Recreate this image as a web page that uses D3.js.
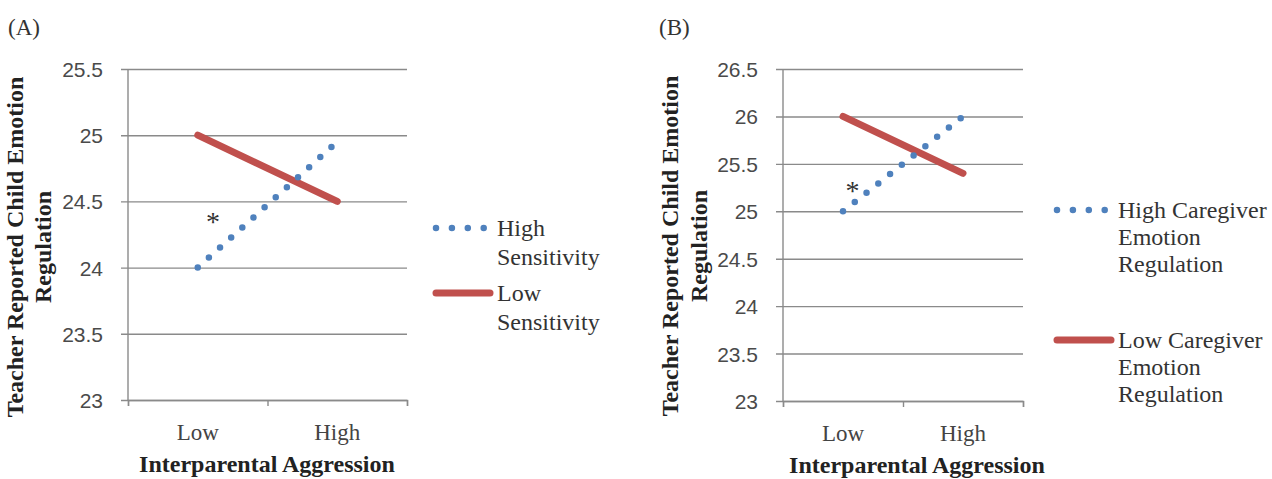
<!DOCTYPE html>
<html><head><meta charset="utf-8">
<script src="https://cdn.jsdelivr.net/npm/d3@7"></script>
<style>
body{margin:0;background:#fff;}
svg{display:block;}
</style></head>
<body>
<script>
// ---- data ----
const categories = ["Low", "High"];
const xAxisTitle = "Interparental Aggression";
const yAxisTitleLines = ["Teacher Reported Child Emotion", "Regulation"];

const ticksA = [23, 23.5, 24, 24.5, 25, 25.5];
const highSensitivity = [24.0, 24.95];
const lowSensitivity = [25.0, 24.5];
const legendA = [["High", "Sensitivity"], ["Low", "Sensitivity"]];
const starA = [0.11, 24.41];

const ticksB = [23, 23.5, 24, 24.5, 25, 25.5, 26, 26.5];
const highCaregiver = [25.0, 26.0];
const lowCaregiver = [26.0, 25.4];
const legendB = [["High Caregiver", "Emotion", "Regulation"], ["Low Caregiver", "Emotion", "Regulation"]];
const starB = [0.08, 25.3];

const W = 1272, H = 479;
const BLUE = "#4f81bd", RED = "#c0504d", GRID = "#8a8a8a";
const SERIF = "'Liberation Serif','Times New Roman',serif";
const SANS = "'Liberation Sans',Arial,sans-serif";

const svg = d3.select("body").append("svg").attr("width", W).attr("height", H);

function panel(cfg) {
  const g = svg.append("g");
  const x = d3.scaleLinear().domain([-0.5, 1.5]).range([cfg.left, cfg.right]);
  const y = d3.scaleLinear().domain([cfg.ticks[0], cfg.ticks[cfg.ticks.length - 1]]).range([cfg.bottom, cfg.top]);

  // gridlines + y ticks
  const yAxis = d3.axisLeft(y).tickValues(cfg.ticks).tickSize(-(cfg.right - cfg.left) - 7)
    .tickFormat(d => String(d));
  const ya = g.append("g").attr("transform", `translate(${cfg.right},0)`).call(yAxis);
  ya.select(".domain").remove();
  ya.selectAll(".tick line").attr("stroke", GRID).attr("stroke-width", 1.4)
    .attr("x1", 0).attr("x2", -(cfg.right - cfg.left) - 7);
  ya.selectAll(".tick text").attr("x", -(cfg.right - cfg.left) - 25)
    .attr("font-family", SANS).attr("font-size", 21).attr("fill", "#4a4a4a").attr("dy", "0.36em");

  // y axis line
  g.append("line").attr("x1", cfg.left).attr("x2", cfg.left).attr("y1", cfg.top).attr("y2", cfg.bottom)
    .attr("stroke", GRID).attr("stroke-width", 1.4);

  // x axis ticks
  const xAxis = d3.axisBottom(x).tickValues([-0.5, 0.5, 1.5]).tickSize(6).tickFormat("");
  const xa = g.append("g").attr("transform", `translate(0,${cfg.bottom})`).call(xAxis);
  xa.select(".domain").attr("stroke", GRID).attr("stroke-width", 1.4);
  xa.selectAll(".tick line").attr("stroke", GRID).attr("stroke-width", 1.4);

  // category labels
  g.selectAll(".cat").data(categories).join("text")
    .attr("x", (d, i) => x(i)).attr("y", cfg.bottom + 40)
    .attr("text-anchor", "middle").attr("font-family", SERIF).attr("font-size", 23).attr("fill", "#444")
    .text(d => d);

  // x title
  g.append("text").attr("x", cfg.xTitleX).attr("y", cfg.bottom + 72).attr("text-anchor", "middle")
    .attr("font-family", SERIF).attr("font-weight", "bold").attr("font-size", 24).attr("fill", "#222")
    .text(xAxisTitle);

  // y title
  yAxisTitleLines.forEach((t, i) => {
    g.append("text").attr("transform", `translate(${cfg.yTitleX[i]},${cfg.yTitleY}) rotate(-90)`)
      .attr("text-anchor", "middle").attr("dy", "0.35em")
      .attr("font-family", SERIF).attr("font-weight", "bold").attr("font-size", 24).attr("fill", "#222")
      .text(t);
  });

  // panel label
  g.append("text").attr("x", cfg.labelX).attr("y", 35).attr("font-family", SERIF).attr("font-size", 23)
    .attr("fill", "#333").text(cfg.label);

  const line = d3.line().x((d, i) => x(i)).y(d => y(d));
  // low (red solid)
  g.append("path").attr("d", line(cfg.low)).attr("fill", "none").attr("stroke", RED)
    .attr("stroke-width", 7).attr("stroke-linecap", "round");
  // high (blue dotted)
  g.append("path").attr("d", line(cfg.high)).attr("fill", "none").attr("stroke", BLUE)
    .attr("stroke-width", 6.5).attr("stroke-linecap", "round").attr("stroke-dasharray", "0 " + cfg.dotGap);

  // asterisk
  g.append("text").attr("x", x(cfg.star[0])).attr("y", y(cfg.star[1])).attr("dy", "0.62em")
    .attr("text-anchor", "middle").attr("font-family", SERIF).attr("font-size", 28).attr("fill", "#333")
    .text("*");

  // legend
  const lg = g.append("g");
  cfg.legend.forEach((lines, k) => {
    const ly = cfg.legendY[k];
    if (k === 0) {
      lg.append("line").attr("x1", cfg.legendX).attr("x2", cfg.legendX + 52).attr("y1", ly).attr("y2", ly)
        .attr("stroke", BLUE).attr("stroke-width", 6.5).attr("stroke-linecap", "round").attr("stroke-dasharray", "0 15.9");
    } else {
      lg.append("line").attr("x1", cfg.legendX).attr("x2", cfg.legendX + 54).attr("y1", ly).attr("y2", ly)
        .attr("stroke", RED).attr("stroke-width", 7).attr("stroke-linecap", "round");
    }
    lines.forEach((t, j) => {
      lg.append("text").attr("x", cfg.legendX + 61).attr("y", ly + j * cfg.legendLH).attr("dy", "0.35em")
        .attr("font-family", SERIF).attr("font-size", 24).attr("fill", "#333").text(t);
    });
  });
}

panel({
  left: 128, right: 407, top: 69, bottom: 400, ticks: ticksA,
  high: highSensitivity, low: lowSensitivity, star: starA, dotGap: 15,
  xTitleX: 267, yTitleX: [15, 43], yTitleY: 247, label: "(A)", labelX: 8,
  legend: legendA, legendX: 436, legendY: [228, 293], legendLH: 29
});
panel({
  left: 783, right: 1023, top: 69, bottom: 401, ticks: ticksB,
  high: highCaregiver, low: lowCaregiver, star: starB, dotGap: 15,
  xTitleX: 917, yTitleX: [670, 699], yTitleY: 246, label: "(B)", labelX: 659,
  legend: legendB, legendX: 1057, legendY: [210, 340], legendLH: 27
});
</script>
</body></html>
